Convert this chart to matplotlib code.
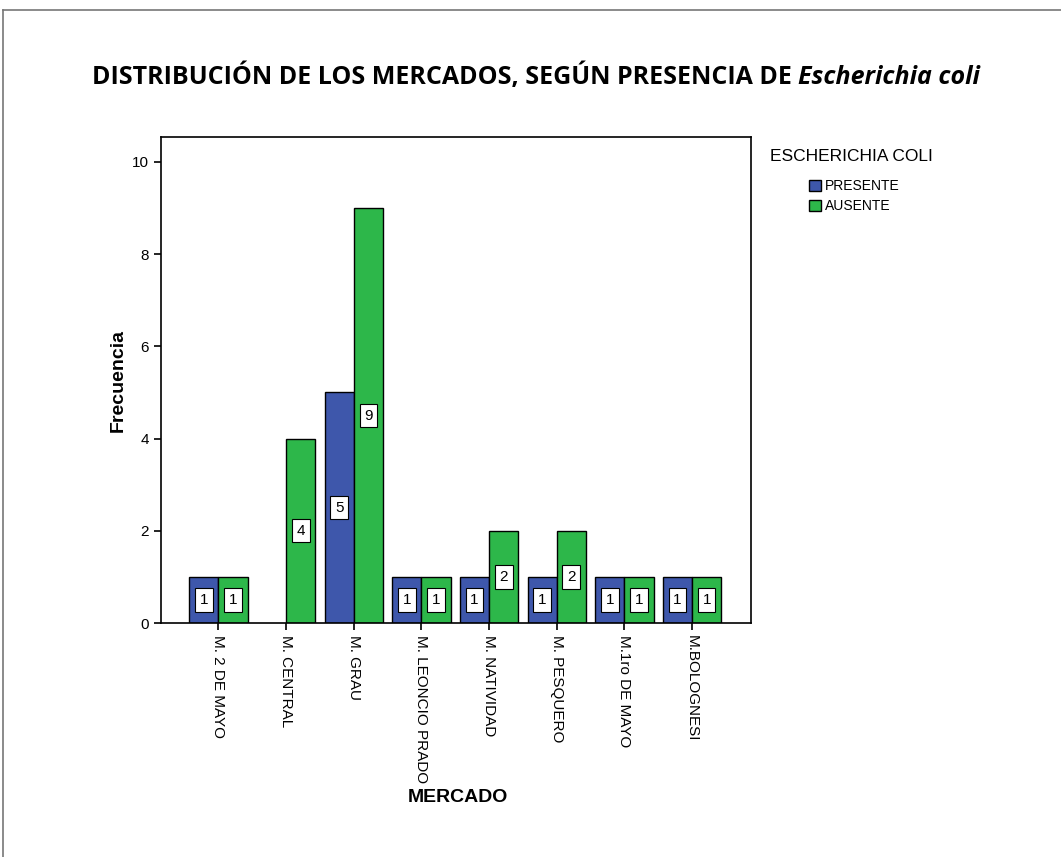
import numpy as np
import matplotlib.pyplot as plt
from matplotlib.lines import Line2D
from matplotlib.patches import Patch

mercados = ['M. 2 DE MAYO', 'M. CENTRAL', 'M. GRAU', 'M. LEONCIO PRADO',
            'M. NATIVIDAD', 'M. PESQUERO', 'M.1ro DE MAYO', 'M.BOLOGNESI']
presente = [1, 0, 5, 1, 1, 1, 1, 1]
ausente = [1, 4, 9, 1, 2, 2, 1, 1]
grupos = ['PRESENTE', 'AUSENTE']
colores = ['#3E57AB', '#2DB74A']

plt.rcParams['font.family'] = ['Liberation Sans', 'DejaVu Sans']

fig = plt.figure(figsize=(10.61, 8.57), dpi=100)
ax = fig.add_axes([0.1517, 0.2730, 0.5561, 0.5671])

x = np.arange(len(mercados))
w = 0.43

def etiquetas(xs, vals):
    for xi, v in zip(xs, vals):
        if v > 0:
            ax.text(xi, v / 2, str(v), ha='center', va='center', fontsize=11,
                    bbox=dict(boxstyle='square,pad=0.3', fc='white', ec='black', lw=0.8))

for serie, off, col in zip([presente, ausente], [-w / 2, w / 2], colores):
    vals = np.array(serie)
    mask = vals > 0
    ax.bar(x[mask] + off, vals[mask], width=w, color=col, edgecolor='black', linewidth=1)
    etiquetas(x[mask] + off, vals[mask])

ax.set_xlim(-0.85, 7.87)
ax.set_ylim(0, 10.54)
ax.set_yticks([0, 2, 4, 6, 8, 10])
ax.set_xticks(x)
ax.set_xticklabels(mercados, rotation=270, fontsize=10.3, va='top', ha='center')
ax.tick_params(axis='both', direction='out', length=5, width=1.2, labelsize=11)
for s in ax.spines.values():
    s.set_linewidth(1.2)

ax.set_ylabel('Frecuencia', fontsize=14, fontweight='bold', labelpad=4)
fig.text(0.4317, 0.069, 'MERCADO', fontsize=14, fontweight='bold', ha='center', va='center')

# titulo: parte normal + nombre cientifico en cursiva
t1 = fig.text(0.0867, 0.910, 'DISTRIBUCIÓN DE LOS MERCADOS, SEGÚN PRESENCIA DE ',
              fontsize=18, fontweight='bold', family='Open Sans', va='center')
fig.canvas.draw()
bb = t1.get_window_extent()
fig.text(bb.x1 / fig.bbox.width, 0.910, 'Escherichia coli', fontsize=18,
         fontweight='bold', style='italic', family='Open Sans', va='center')

# leyenda fuera del area de trazado
handles = [Patch(facecolor=c, edgecolor='black', label=g) for g, c in zip(grupos, colores)]
fig.text(0.7257, 0.817, 'ESCHERICHIA COLI', fontsize=12.5, va='center')
fig.legend(handles=handles, loc='upper left', bbox_to_anchor=(0.7555, 0.799),
           frameon=False, fontsize=10, handlelength=0.9, handleheight=0.9,
           handletextpad=0.3, labelspacing=0.45, borderpad=0)

# marco de la pagina
fig.add_artist(Line2D([0.003, 0.003], [0, 0.988], color='#777777', lw=1.2, transform=fig.transFigure))
fig.add_artist(Line2D([0.003, 1.0], [0.988, 0.988], color='#777777', lw=1.2, transform=fig.transFigure))

fig.savefig('out.png', dpi=100)
